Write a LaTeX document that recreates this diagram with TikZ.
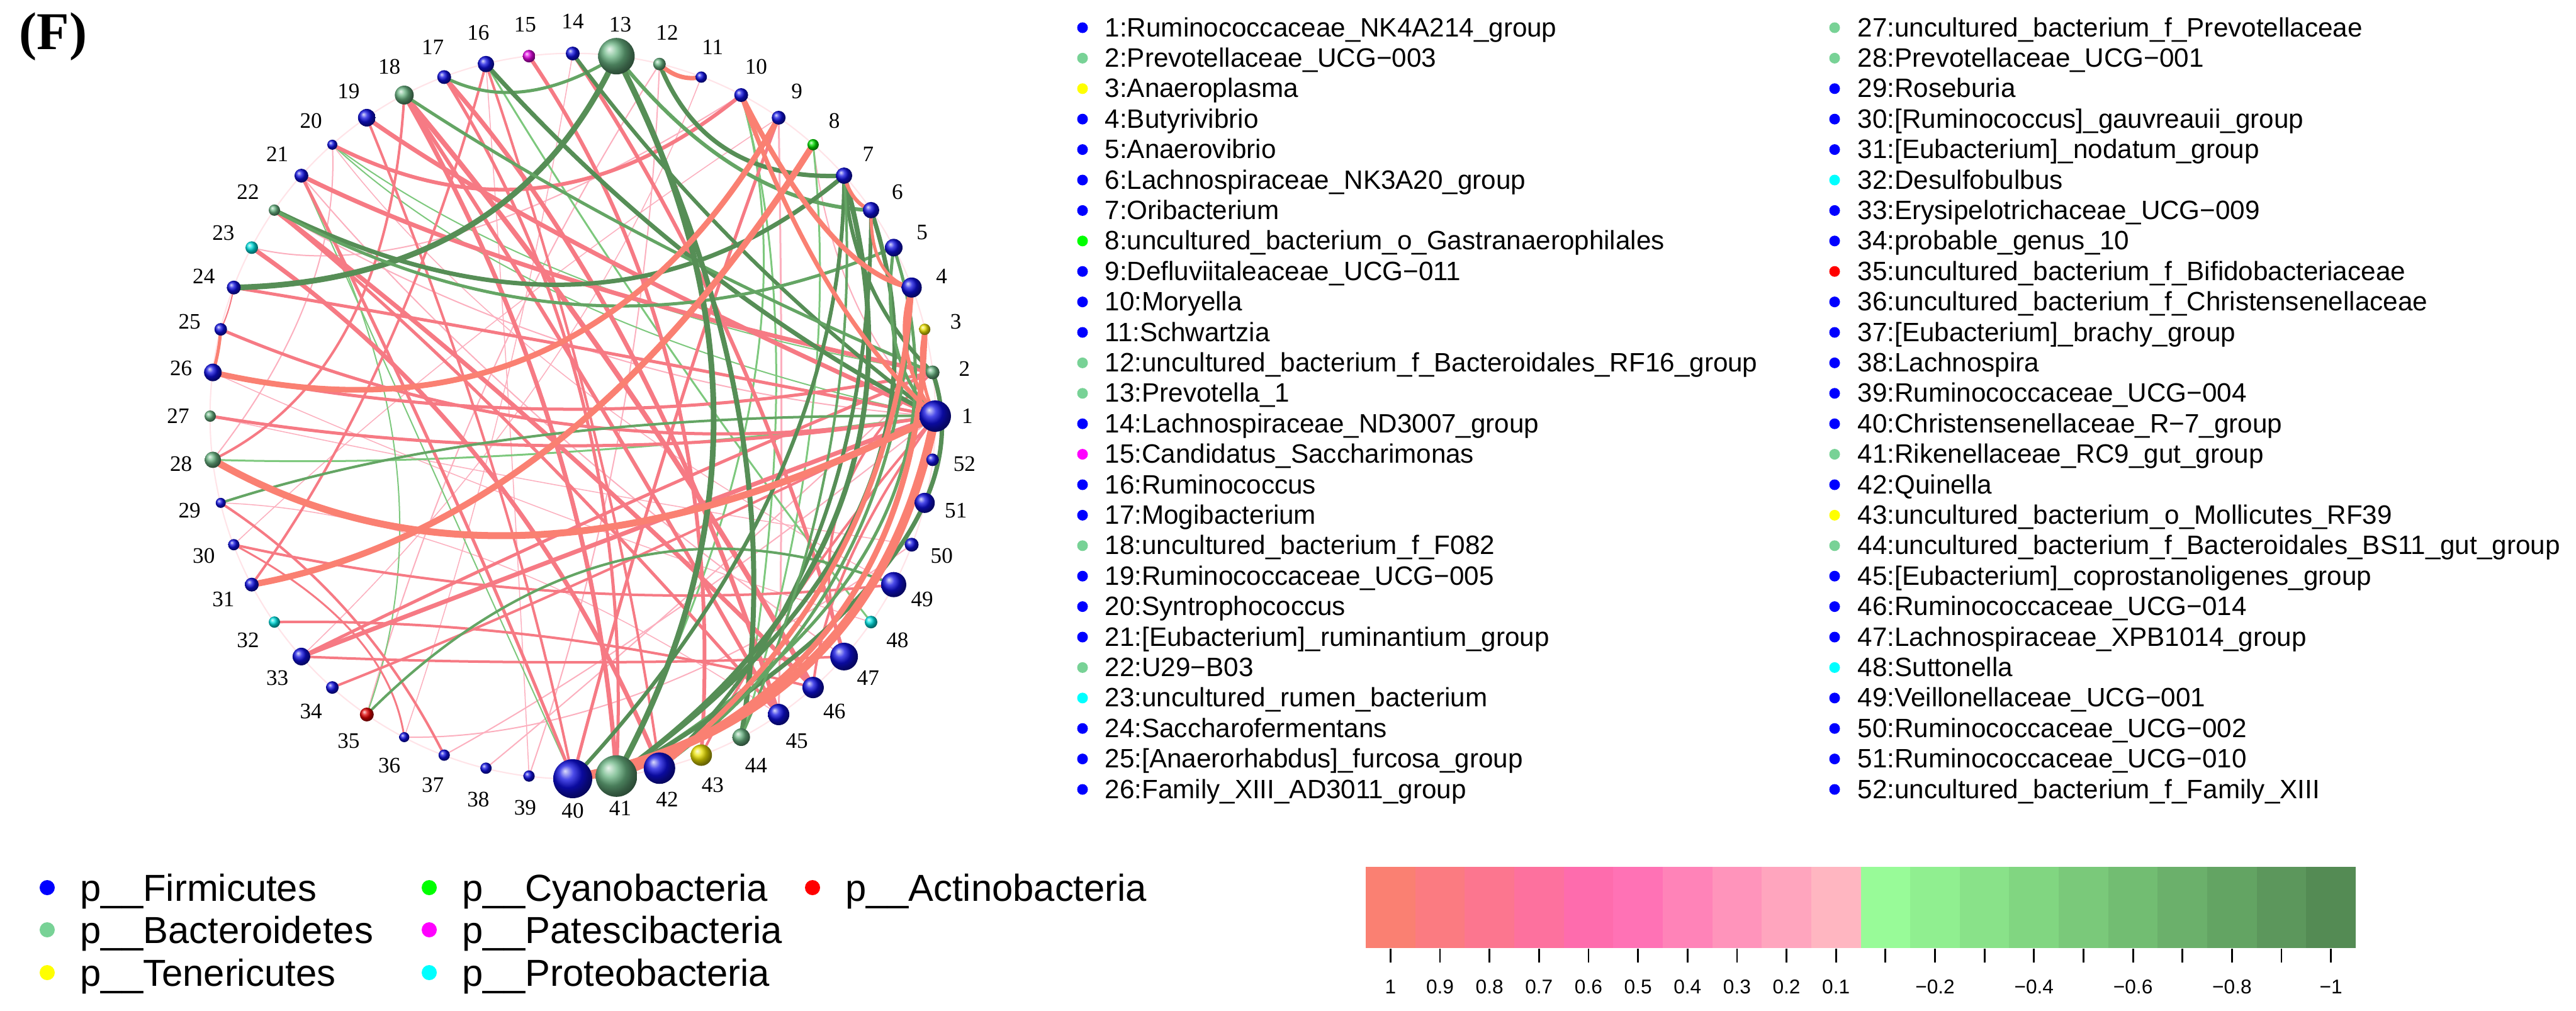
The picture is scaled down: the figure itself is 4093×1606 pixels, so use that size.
\documentclass[tikz,border=0pt]{standalone}
\usepackage{fontspec}
\setmainfont{Liberation Serif}
\setsansfont{Liberation Sans}
\usetikzlibrary{calc,backgrounds}
% phylum colours (legend dots)
\definecolor{fir}{RGB}{0,0,255}
\definecolor{bac}{RGB}{120,210,150}
\definecolor{ten}{RGB}{255,255,0}
\definecolor{cya}{RGB}{0,255,0}
\definecolor{pat}{RGB}{255,0,255}
\definecolor{pro}{RGB}{0,255,255}
\definecolor{act}{RGB}{255,0,0}
% sphere colours
\definecolor{bfir}{RGB}{15,15,225}
\definecolor{bbac}{RGB}{105,180,130}
\definecolor{bten}{RGB}{235,225,0}
\definecolor{bcya}{RGB}{0,225,0}
\definecolor{bpat}{RGB}{225,0,225}
\definecolor{bpro}{RGB}{0,225,225}
\definecolor{bact}{RGB}{225,0,0}
% edge colours
\definecolor{esal}{RGB}{250,128,114}
\definecolor{epk}{RGB}{246,122,132}
\definecolor{elp}{RGB}{252,175,190}
\definecolor{egd}{RGB}{86,142,86}
\definecolor{egm}{RGB}{100,165,100}
\definecolor{egl}{RGB}{125,200,125}
\definecolor{faint}{RGB}{255,228,232}
\tikzset{
  bnode/.style={circle, inner sep=0pt, shading=ball},
  lab/.style={font=\fontsize{10}{12}\selectfont, inner sep=0pt},
  lst/.style={font=\sffamily\fontsize{12}{14}\selectfont, inner sep=0pt},
  phy/.style={font=\sffamily\fontsize{17}{20}\selectfont, inner sep=0pt},
  cbl/.style={font=\sffamily\fontsize{9}{11}\selectfont, inner sep=0pt},
  ldot/.style={circle, inner sep=0pt, minimum size=0.17cm},
  pdot/.style={circle, inner sep=0pt, minimum size=0.24cm},
  edg/.style={line cap=round}
}
\begin{document}
\begin{tikzpicture}[x=0.01cm,y=-0.01cm]
\useasboundingbox (0,0) rectangle (4093,1606);
\coordinate (O) at (910,661);
\node[font=\bfseries\fontsize{24}{26}\selectfont, anchor=base west, inner sep=0pt] (F) at (30,78) {(F)};
% nodes, labels, list
\foreach \i/\r/\col/\nm in {
1/25/fir/{Ruminococcaceae\_NK4A214\_group},
2/11/bac/{Prevotellaceae\_UCG−003},
3/9/ten/{Anaeroplasma},
4/16/fir/{Butyrivibrio},
5/14/fir/{Anaerovibrio},
6/13/fir/{Lachnospiraceae\_NK3A20\_group},
7/13/fir/{Oribacterium},
8/9/cya/{uncultured\_bacterium\_o\_Gastranaerophilales},
9/11/fir/{Defluviitaleaceae\_UCG−011},
10/11/fir/{Moryella},
11/9/fir/{Schwartzia},
12/10/bac/{uncultured\_bacterium\_f\_Bacteroidales\_RF16\_group},
13/29/bac/{Prevotella\_1},
14/11/fir/{Lachnospiraceae\_ND3007\_group},
15/10/pat/{Candidatus\_Saccharimonas},
16/13/fir/{Ruminococcus},
17/11/fir/{Mogibacterium},
18/15/bac/{uncultured\_bacterium\_f\_F082},
19/14/fir/{Ruminococcaceae\_UCG−005},
20/8/fir/{Syntrophococcus},
21/11/fir/{[Eubacterium]\_ruminantium\_group},
22/9/bac/{U29−B03},
23/10/pro/{uncultured\_rumen\_bacterium},
24/11/fir/{Saccharofermentans},
25/10/fir/{[Anaerorhabdus]\_furcosa\_group},
26/14/fir/{Family\_XIII\_AD3011\_group},
27/9/bac/{uncultured\_bacterium\_f\_Prevotellaceae},
28/13/bac/{Prevotellaceae\_UCG−001},
29/8/fir/{Roseburia},
30/9/fir/{[Ruminococcus]\_gauvreauii\_group},
31/11/fir/{[Eubacterium]\_nodatum\_group},
32/9/pro/{Desulfobulbus},
33/14/fir/{Erysipelotrichaceae\_UCG−009},
34/10/fir/{probable\_genus\_10},
35/11/act/{uncultured\_bacterium\_f\_Bifidobacteriaceae},
36/8/fir/{uncultured\_bacterium\_f\_Christensenellaceae},
37/9/fir/{[Eubacterium]\_brachy\_group},
38/9/fir/{Lachnospira},
39/9/fir/{Ruminococcaceae\_UCG−004},
40/31/fir/{Christensenellaceae\_R−7\_group},
41/33/bac/{Rikenellaceae\_RC9\_gut\_group},
42/25/fir/{Quinella},
43/17/ten/{uncultured\_bacterium\_o\_Mollicutes\_RF39},
44/14/bac/{uncultured\_bacterium\_f\_Bacteroidales\_BS11\_gut\_group},
45/17/fir/{[Eubacterium]\_coprostanoligenes\_group},
46/17/fir/{Ruminococcaceae\_UCG−014},
47/22/fir/{Lachnospiraceae\_XPB1014\_group},
48/10/pro/{Suttonella},
49/20/fir/{Veillonellaceae\_UCG−001},
50/11/fir/{Ruminococcaceae\_UCG−002},
51/16/fir/{Ruminococcaceae\_UCG−010},
52/10/fir/{uncultured\_bacterium\_f\_Family\_XIII}}{
  \pgfmathsetmacro\ang{(\i-1)*6.9230769}
  \node[bnode, ball color=b\col, minimum size={2*\r*0.01cm}] (n\i) at ({910+576*cos(\ang)},{661-576*sin(\ang)}) {};
  \node[lab] (l\i) at ({910+627*cos(\ang)},{661-627*sin(\ang)}) {\i};
  \pgfmathtruncatemacro\ci{(\i-1)/26}
  \pgfmathtruncatemacro\ri{mod(\i-1,26)}
  \node[ldot, fill=\col] (d\i) at ({1720+1195*\ci},{44+48.4*\ri}) {};
  \node[lst, anchor=base west] (t\i) at ({1755+1196*\ci},{58+48.4*\ri}) {\i:\nm};
}
% edges
\begin{scope}[on background layer]
\fill[white] (0,0) rectangle (4093,1606);
\draw[faint, line width=0.6pt] (O) circle[radius=5.76cm];
\foreach \a/\b/\col/\w/\mx/\my in {
23/10/elp/2/550/420, 35/12/elp/2/600/700, 36/50/elp/2/900/1300, 37/1/elp/2/950/1150,
38/2/elp/2/1000/1100, 39/12/elp/2/850/800, 9/45/elp/3/1160/800, 8/1/elp/2/1300/550,
22/1/elp/2/800/650, 28/20/elp/2/250/550, 21/47/elp/2/700/780, 20/49/elp/1.5/750/700,
27/50/elp/1.5/700/900, 29/45/elp/1.5/600/1050, 16/39/elp/1.5/640/800, 11/33/elp/1.5/700/700,
9/30/elp/1.5/600/600, 14/36/elp/1.5/620/760, 26/48/elp/1.5/700/950,
20/2/egl/2/800/520, 20/1/egl/2/780/560, 21/40/egl/2/480/850, 28/1/egl/3/700/845,
35/21/egl/2/420/850, 8/44/egl/3/1215/800, 48/16/egl/3/950/650, 10/44/egl/3/1150/700,
10/41/egl/3/1100/750,
20/10/epk/6/700/335, 19/1/epk/7/800/460, 21/2/epk/7/750/510, 18/46/epk/8/850/700,
18/45/epk/6/780/700, 17/45/epk/7/870/650, 18/28/epk/4/330/600, 15/43/epk/6/950/700,
14/47/epk/6/1060/620, 22/46/epk/7/700/800, 22/45/epk/5/650/800, 23/42/epk/7/600/880,
24/1/epk/5/760/640, 24/25/epk/2/100/570, 25/1/epk/5/760/790, 26/2/epk/5/760/760,
27/1/epk/5/760/830, 29/37/epk/4/330/1150, 30/36/epk/3/340/1190, 30/49/epk/4/750/1110,
31/16/epk/4/400/650, 32/46/epk/4/700/1195, 33/1/epk/7/800/1020, 33/2/epk/5/800/970,
33/47/epk/4/760/1245, 34/1/epk/4/800/1080, 18/41/epk/7/720/800, 21/40/epk/5/520/900,
17/41/epk/5/780/750, 1/43/epk/4/1200/1100, 1/46/epk/4/1290/1050, 16/42/epk/4/800/800,
19/40/epk/4/600/850, 2/47/epk/4/1270/950, 9/40/epk/5/950/800,
13/24/egd/9/560/410, 17/13/egm/5/669/151, 16/1/egd/7/1000/480, 14/1/egd/6/1080/450,
12/7/egd/7/1060/265, 13/6/egm/6/1080/300, 22/7/egd/7/780/520, 22/5/egm/5/780/560,
18/2/egm/5/900/430, 29/1/egm/4/700/810, 35/49/egm/4/850/1050, 13/41/egd/9/1030/780,
13/44/egd/8/1075/750, 41/7/egd/8/1270/950, 41/6/egd/7/1310/950, 41/5/egm/5/1340/1000,
41/2/egd/7/1360/1060, 40/7/egd/6/1150/900, 42/4/egm/5/1280/1050, 42/6/egd/6/1230/1000,
7/2/egd/6/1330/520, 5/1/egm/5/1380/640, 7/44/egm/4/1250/850,
1/40/esal/14/1223/1236, 3/41/esal/9/1280/1140, 28/1/esal/11/700/1000, 31/8/esal/10/720/830,
26/9/esal/9/700/650, 25/26/esal/5/80/650, 10/4/esal/8/1250/420, 10/1/esal/7/1250/520,
12/11/esal/7/965/122, 7/6/esal/6/1300/355, 6/4/esal/5/1350/480, 4/1/esal/6/1400/650,
3/1/esal/5/1430/690, 4/42/esal/8/1270/1040}{
  \coordinate (m) at ({280+0.829*\mx},{20+0.829*\my});
  \draw[edg, draw=\col, line width={\w*0.2845pt}] (n\a.center)
    .. controls ($1.3333*(m)-0.3333*(n\b.center)$) and ($1.3333*(m)-0.3333*(n\a.center)$) .. (n\b.center);
}
\end{scope}
% phylum legend
\foreach \j/\x/\y/\col/\nm in {1/75/1410/fir/Firmicutes, 2/75/1477/bac/Bacteroidetes,
  3/75/1545/ten/Tenericutes, 4/682/1410/cya/Cyanobacteria, 5/682/1477/pat/Patescibacteria,
  6/682/1545/pro/Proteobacteria, 7/1291/1410/act/Actinobacteria}{
  \node[pdot, fill=\col] (pd\j) at (\x,\y) {};
  \node[phy, anchor=base west] (pt\j) at ({\x+52},{\y+21}) {p\_\_\nm};
}
% colour bar
\foreach \k/\rr/\gg/\bb in {0/250/128/114, 1/251/123/129, 2/252/118/143, 3/253/113/158,
  4/254/108/173, 5/255/114/181, 6/255/131/184, 7/255/148/187, 8/255/165/190, 9/255/182/193,
  10/152/251/152, 11/144/239/144, 12/137/226/137, 13/129/214/129, 14/122/201/122,
  15/114/189/114, 16/107/176/107, 17/99/164/99, 18/92/151/92, 19/84/139/84}{
  \definecolor{cbc}{RGB}{\rr,\gg,\bb}
  \fill[cbc] ({2170+78.65*\k},1377) rectangle ({2170+78.65*(\k+1)},1506);
  \draw[line width=0.8pt] ({2170+78.65*(\k+0.5)},1507) -- ({2170+78.65*(\k+0.5)},1529);
}
\foreach \k/\v in {0/1, 1/0.9, 2/0.8, 3/0.7, 4/0.6, 5/0.5, 6/0.4, 7/0.3, 8/0.2, 9/0.1,
  11/−0.2, 13/−0.4, 15/−0.6, 17/−0.8, 19/−1}{
  \node[cbl] (cb\k) at ({2170+78.65*(\k+0.5)},1568) {\v};
}
\end{tikzpicture}
\end{document}
